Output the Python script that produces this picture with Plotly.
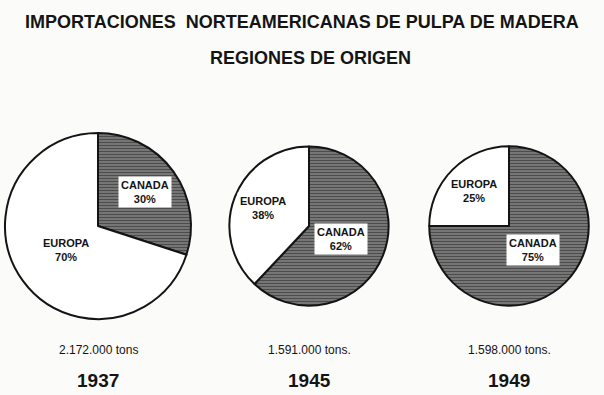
import math
import plotly.graph_objects as go

# ---- data ----
years = ["1937", "1945", "1949"]
totals_label = ["2.172.000 tons", "1.591.000 tons.", "1.598.000 tons."]
totals = [2172000, 1591000, 1598000]
regions = ["CANADA", "EUROPA"]
canada_pct = [30, 62, 75]
europa_pct = [70, 38, 25]

# ---- layout constants (pixels) ----
W, H = 604, 395
centers_x = [98, 309, 509]
center_y = 226
r_max = 93  # radius of the largest pie, others scaled by area

ink = "#141414"
font_family = "Liberation Sans, Arial, sans-serif"


def ann(x_px, y_px, text, size, bg=None, pad=1):
    d = dict(
        x=x_px / W, y=(H - y_px) / H, xref="paper", yref="paper",
        xanchor="center", yanchor="middle",
        text=text, showarrow=False, align="center",
        font=dict(family=font_family, size=size, color=ink),
        borderpad=pad,
    )
    if bg:
        d["bgcolor"] = bg
    return d


fig = go.Figure()
annotations = []
tmax = max(totals)
for i, yr in enumerate(years):
    r = r_max * math.sqrt(totals[i] / tmax)
    cx, cy = centers_x[i], center_y
    dx0, dx1 = (cx - r) / W, (cx + r) / W
    dy0, dy1 = (H - cy - r) / H, (H - cy + r) / H
    vals = [canada_pct[i], europa_pct[i]]
    fig.add_trace(go.Pie(
        labels=regions, values=vals, sort=False, direction="clockwise", rotation=0,
        domain=dict(x=[dx0, dx1], y=[dy0, dy1]),
        textinfo="none", hoverinfo="label+percent", showlegend=False,
        marker=dict(
            colors=["#6e6e6e", "#ffffff"],
            line=dict(color=ink, width=2),
            pattern=dict(shape=["-", ""], fgcolor=ink, bgcolor=["#848484", "#ffffff"],
                         size=3, solidity=0.5, fillmode="overlay"),
        ),
    ))
    # labels placed at slice mid-angles
    start = 0.0
    tot = sum(vals)
    for name, v in zip(regions, vals):
        frac = v / tot
        mid = (start + frac / 2) * 2 * math.pi
        start += frac
        rf = 0.62 if frac < 0.5 else 0.43
        lx = cx + r * rf * math.sin(mid)
        ly = cy - r * rf * math.cos(mid)
        annotations.append(ann(lx, ly, f"<b>{name}<br>{v}%</b>", 11, bg="white", pad=2))
    annotations.append(ann(cx, 350, totals_label[i], 12))
    annotations.append(ann(cx, 380, f"<b>{yr}</b>", 19))

annotations.append(ann(W / 2, 22, "<b>IMPORTACIONES  NORTEAMERICANAS DE PULPA DE MADERA</b>", 18))
annotations.append(ann(310, 58, "<b>REGIONES DE ORIGEN</b>", 18))

fig.update_layout(
    width=W, height=H, margin=dict(l=0, r=0, t=0, b=0),
    paper_bgcolor="#fbfbf9", plot_bgcolor="#fbfbf9",
    annotations=annotations,
)

fig.write_html("out.html")
